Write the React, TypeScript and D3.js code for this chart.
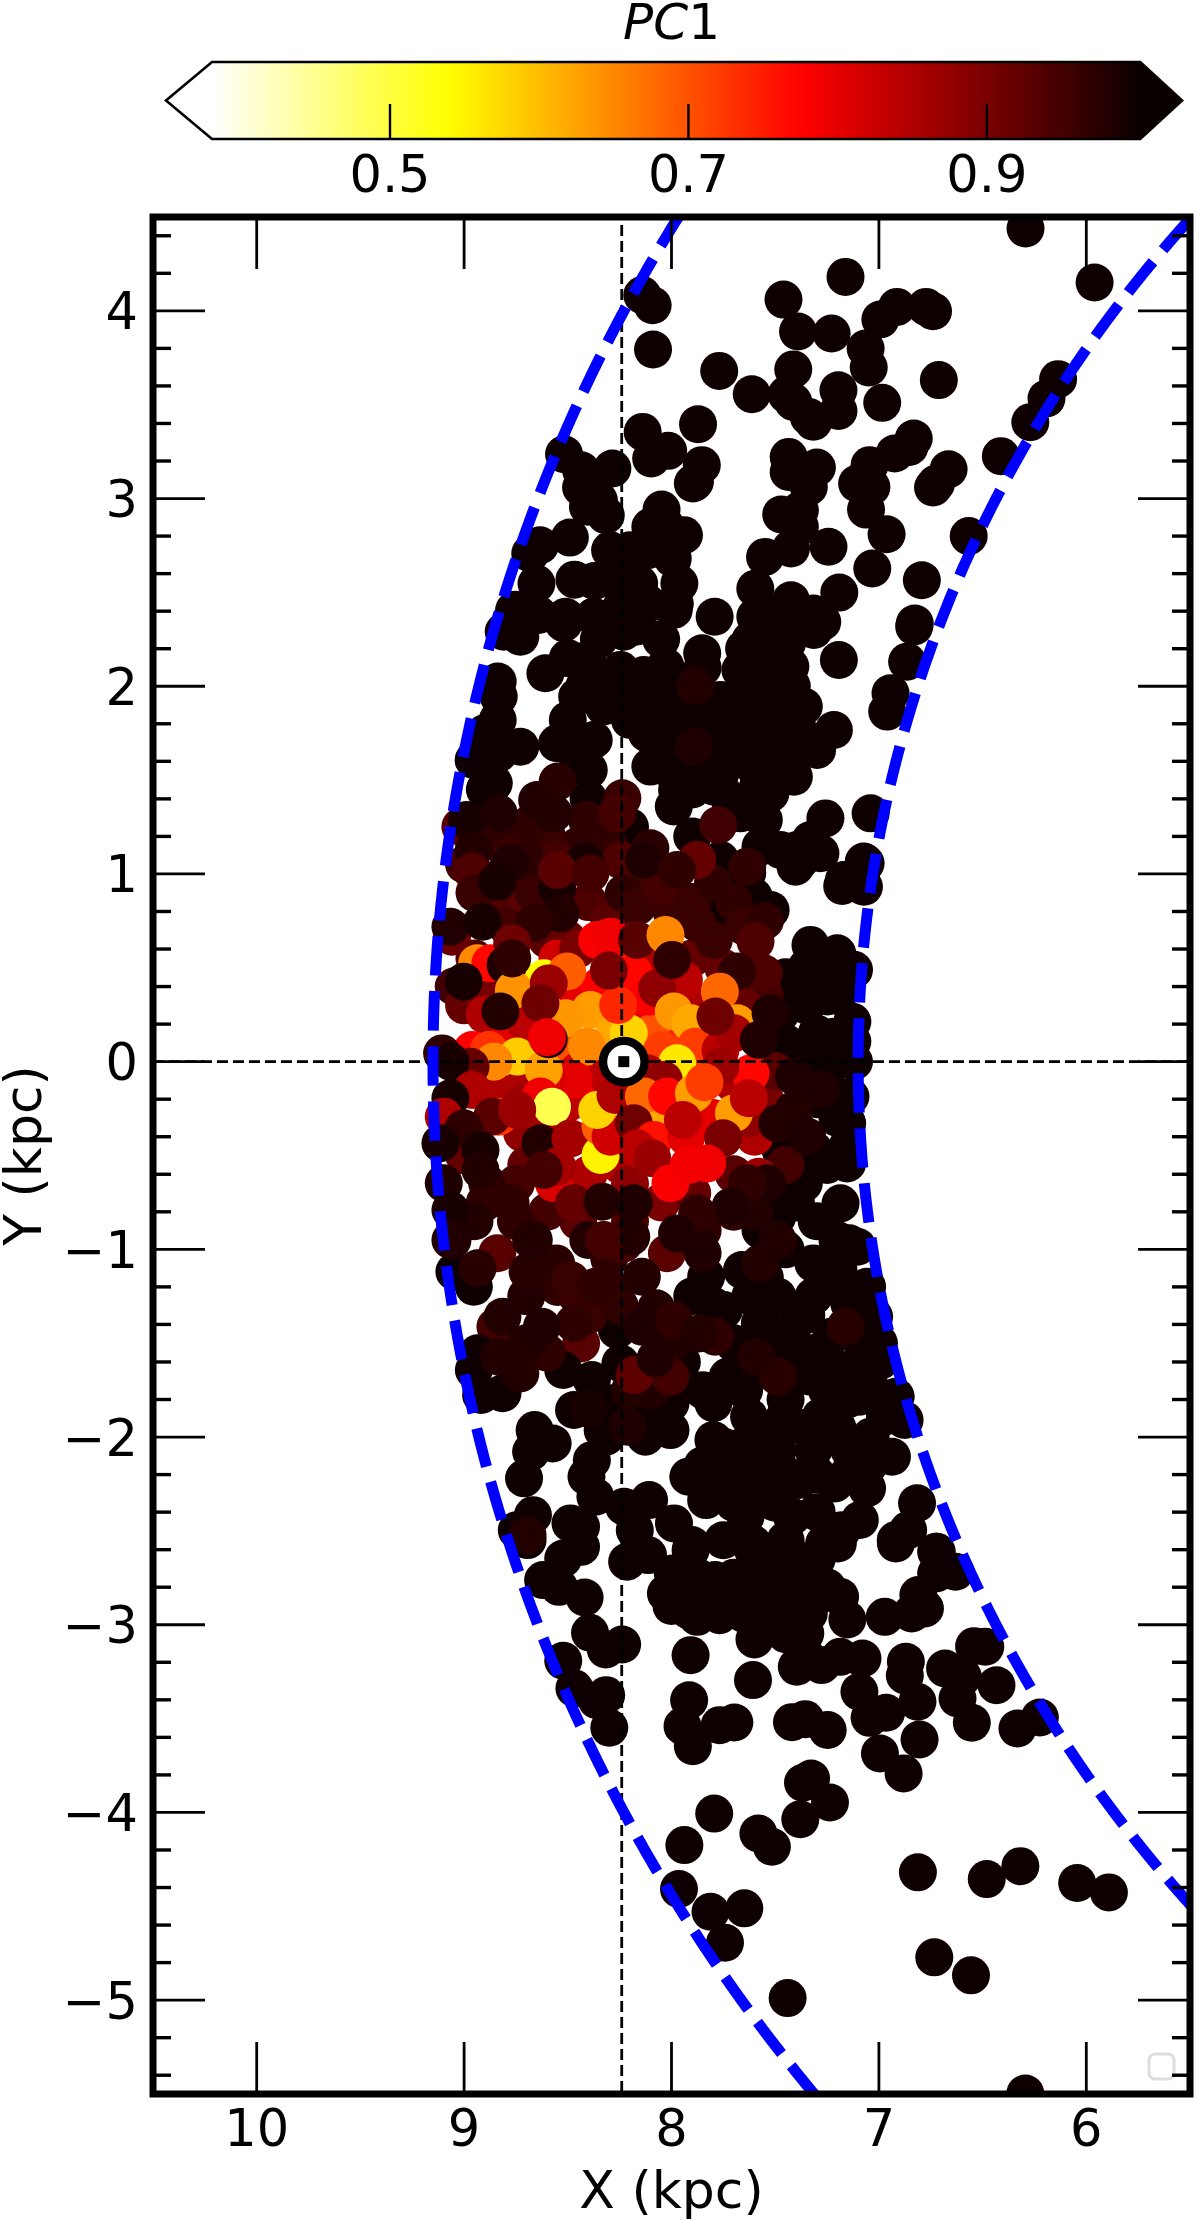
import React from 'react';
import * as d3 from 'd3';

// ---- axis ticks
const xMajorTicks = [10, 9, 8, 7, 6];
const yMajorTicks = [-5, -4, -3, -2, -1, 0, 1, 2, 3, 4];
const yMinorTicks = d3.range(-27, 23).map((d) => d / 5).filter((d) => Math.abs(d - Math.round(d)) > 1e-6);
const colorbarTicks = [0.5, 0.7, 0.9];

// ---- ring radii (kpc) and reference lines
const ringRadii = [9.15, 7.1];
const sunX = 8.23;
const refX = 8.24;
const refY = 0;

// ---- hot_r colormap knots
const colorKnots = [0, 0.254, 0.635, 1];
const colorKnotValues = ['#ffffff', '#ffff00', '#ff0000', '#0a0000'];
const pc1Min = 0.3807;
const pc1Max = 1.0033;

// ---- stars largely hidden behind the others: x, y, pc1
const starsBehind: number[][] = [
[9.018,1.252,0.93],[8.825,1.27,0.92],[8.84,-1.021,0.93],[8.849,-1.412,0.95],[8.436,-1.501,0.93],
];

// ---- saturated stars, PC1 ~ 1
const darkPC1 = 1.0;
const starsNorth: number[][] = [
[6.293,4.439],[5.96,4.151],[7.161,4.181],[7.46,4.06],[7.39,3.89],[7.228,3.879],[6.993,3.954],[6.913,4.021],[6.773,4.021],[6.739,3.998],
[7.064,3.799],[7.049,3.698],[6.711,3.631],[6.984,3.51],[7.413,3.688],[7.195,3.577],[7.195,3.467],[7.445,3.554],[7.413,3.515],[7.316,3.409],
[7.338,3.435],[7.613,3.556],[7.77,3.68],[8.141,4.084],[8.091,4.03],[8.089,3.794],[7.872,3.396],[8.139,3.355],[8.016,3.254],[8.098,3.213],
[7.854,3.178],[7.887,3.089],[7.897,3.08],[8.518,3.236],[8.436,3.151],[8.285,3.16],[8.436,3.059],[8.35,2.99],[8.403,2.956],[8.317,2.911],
[8.048,2.941],[8.102,2.849],[8.031,2.858],[7.94,2.805],[8.296,2.725],[8.199,2.725],[8.113,2.725],[7.994,2.68],[8.49,2.792],[8.634,2.751],
[8.681,2.707],[8.651,2.547],[8.468,2.568],[8.371,2.561],[8.263,2.556],[8.156,2.547],[7.962,2.547],[7.984,2.44],[8.759,2.405],[8.511,2.37],
[8.35,2.36],[8.242,2.423],[8.113,2.44],[8.64,2.38],[7.792,2.37],[7.596,2.52],[7.424,2.458],[7.549,2.689],[7.424,2.734],[7.243,2.743],
[7.435,3.222],[7.299,3.165],[7.435,3.142],[7.338,3.062],[7.381,2.938],[7.471,2.915],[7.381,2.849],[7.045,3.178],[6.924,3.24],[6.832,3.32],
[6.853,3.275],[6.664,3.156],[6.739,3.059],[6.724,3.08],[7.105,3.08],[7.036,3.062],[7.062,2.941],[6.963,2.81],[7.032,2.627],[6.793,2.565],
[7.191,2.499],[6.827,2.334],[6.412,3.226],[6.567,2.8],[6.136,3.636],[6.192,3.533],[6.27,3.407],[7.51,2.387],[7.316,2.387],[7.273,2.343],[7.596,2.37],
];
const starsUpper: number[][] = [
[7.314,2.3],[7.193,2.14],[7.217,1.767],[6.944,1.963],[6.96,1.865],[6.83,2.318],[6.864,2.131],[7.04,1.323],[7.258,1.296],[7.282,1.11],
[7.33,1.181],[7.394,1.128],[7.073,1.066],[7.169,0.968],[7.298,1.661],[7.41,1.518],[7.362,1.892],[7.394,1.785],[7.443,2.229],[7.539,2.264],
[7.443,2.407],[7.539,2.353],[7.427,2.105],[7.619,2.247],[7.852,2.176],[8.029,2.105],[8.134,2.06],[7.989,2.407],[8.166,2.318],[8.23,2.291],
[8.375,2.371],[8.52,2.336],[8.713,2.336],[8.729,2.264],[8.809,2.291],[8.753,2.407],[8.608,2.069],[8.455,1.945],[8.407,2.14],[8.246,2.087],
[8.343,2.051],[8.838,2.025],[8.833,1.945],[8.838,1.82],[8.729,1.678],[8.552,1.696],[8.375,1.714],[8.399,1.554],[8.954,1.607],[8.857,1.483],[8.833,1.643],
[8.086,1.963],[7.957,1.856],[8.118,1.749],[7.957,1.607],[8.102,1.572],[7.764,1.927],[7.668,2.087],[7.603,1.927],[7.523,2.051],[7.796,1.749],
[7.635,1.749],[7.507,1.82],[7.764,1.536],[7.603,1.572],[7.491,1.678],[7.973,1.447],[7.796,1.465],[7.603,1.394],[7.523,1.43],[8.214,1.927],
[8.327,1.892],[7.989,1.359],[7.555,1.288],[7.668,1.323],[7.571,1.145],[7.475,1.128],[7.378,1.074],
[8.5,1.82],[8.42,2.0],[8.05,2.0],[8.0,1.72],[7.9,1.95],[7.9,1.45],[7.85,2.1],[7.83,1.62],[7.75,1.78],[7.72,1.4],[7.72,1.9],[7.68,1.62],[7.65,2.2],
[7.6,1.85],[7.58,1.48],[7.55,2.1],[7.5,1.58],[7.47,1.95],[7.42,2.0],[7.4,1.65],[7.9,1.2],[8.0,1.55],[8.1,1.85],[8.2,1.25],[8.3,1.3],[8.45,1.6],[8.4,1.4],
[8.5,2.15],[8.35,2.25],[8.9,1.75],[8.9,1.45],[8.05,2.25],[8.2,1.82],[7.97,2.02],[7.88,1.8],
];
const starsEast: number[][] = [
[7.402,1.039],[7.177,0.936],[7.072,0.932],[7.064,1.057],[7.33,0.622],[7.201,0.577],[7.12,0.489],[7.386,0.426],[7.249,0.347],[7.474,0.258],
[7.128,0.213],[7.217,0.133],[7.128,0.107],[7.12,0.0],[7.313,-0.009],[7.137,-0.186],[7.153,-0.328],[7.153,-0.453],[7.153,-0.542],[7.474,-0.471],
[7.313,-0.471],[7.362,-0.648],[7.185,-0.755],[7.104,-0.986],[7.49,-0.826],[7.571,-0.897],[7.764,1.075],[7.635,1.004],[7.522,0.808],[7.603,0.879],[7.748,0.826],
[7.35,0.3],[7.45,0.1],[7.3,0.15],[7.2,0.35],[7.25,-0.05],[7.2,-0.3],[7.3,-0.2],[7.4,-0.35],[7.25,-0.55],[7.4,-0.75],[7.3,-0.85],[7.2,-0.95],[7.45,-1.0],
[7.55,-1.15],[7.25,-1.2],[7.35,0.5],[7.25,0.5],[7.45,0.45],
];
const starsSouth: number[][] = [
[9.047,-1.119],[8.953,-1.199],[7.833,-1.146],[7.143,-0.968],[7.057,-1.199],[7.023,-1.359],[6.988,-1.59],[6.919,-1.785],[6.876,-1.909],[6.937,-2.105],
[6.816,-2.353],[6.859,-2.496],[6.919,-2.549],[6.721,-2.611],[8.935,-1.554],[8.953,-1.643],[8.918,-1.776],[8.815,-1.767],[8.522,-1.643],[8.66,-1.963],
[8.677,-2.078],[8.711,-2.22],[8.573,-2.034],[8.668,-2.416],[8.746,-2.496],[8.436,-2.478],[8.487,-2.46],[8.41,-2.211],[8.367,-2.318],[8.384,-2.123],
[8.332,-1.963],[8.47,-1.856],[8.005,-1.82],[8.126,-1.998],[8.005,-1.963],[8.108,-1.82],[8.298,-1.82],[8.315,-1.998],[7.798,-2.016],[7.919,-2.211],
[7.833,-2.336],[8.108,-2.336],[8.229,-2.371],[7.988,-2.46],[8.177,-2.496],[7.902,-2.575],[7.609,-2.567],[7.419,-2.424],[7.643,-2.424],[7.264,-2.567],
[7.178,-2.496],[7.092,-2.442],[7.057,-2.273],[7.212,-2.247],[7.385,-2.229],[7.574,-2.247],[7.729,-2.211],[7.66,-2.052],[7.488,-2.069],[7.316,-2.069],
[7.143,-2.069],[7.04,-1.998],[6.971,-1.892],[7.092,-1.785],[7.281,-1.892],[7.454,-1.892],[7.626,-1.892],[7.798,-1.82],[7.729,-1.678],[7.333,-1.678],
[7.178,-1.643],[7.075,-1.554],[7.23,-1.465],[7.419,-1.43],[7.574,-1.394],[7.488,-1.252],[7.316,-1.252],[7.143,-1.288],[7.66,-1.11],[7.316,-1.075],
[7.195,-1.11],[7.747,-1.323],[8.263,-1.43],[8.246,-1.607],[8.384,-1.696],
[8.694,-2.549],[8.436,-2.585],[8.522,-2.647],[8.619,-2.762],[8.543,-2.798],[8.419,-2.855],[8.393,-3.043],[8.317,-3.132],[8.238,-3.105],[8.522,-3.192],
[8.468,-3.339],[8.315,-3.375],[8.36,-3.402],[8.3,-3.549],[8.214,-2.664],[8.113,-2.629],[7.908,-2.602],[7.607,-2.602],[7.381,-2.656],[7.198,-2.567],
[6.918,-2.567],[6.724,-2.611],[6.724,-2.727],[6.631,-2.718],[6.81,-2.842],[6.778,-2.913],[6.842,-2.94],[6.972,-2.958],[7.187,-2.851],[7.152,-2.972],
[8.027,-2.833],[7.994,-2.727],[7.876,-2.744],[7.79,-2.762],[7.919,-2.922],[7.876,-2.958],[7.768,-2.949],[7.65,-2.943],[7.574,-2.744],[7.456,-2.913],
[7.359,-2.78],[7.338,-2.94],[7.355,-3.046],[7.6,-3.078],[7.908,-3.162],[7.396,-3.224],[7.359,-3.153],[7.277,-3.215],[7.187,-3.171],[7.079,-3.18],
[7.607,-3.295],[6.87,-3.197],[6.875,-3.27],[6.681,-3.233],[6.541,-3.114],[6.487,-3.117],[6.595,-3.277],[6.433,-3.322],[6.621,-3.393],[7.094,-3.357],
[6.965,-3.469],[7.045,-3.496],[6.814,-3.41],[6.804,-3.611],[6.552,-3.522],[6.332,-3.553],[6.224,-3.494],[7.915,-3.402],[7.947,-3.54],[7.897,-3.647],
[7.768,-3.535],[7.697,-3.521],[7.419,-3.519],[7.355,-3.503],[7.247,-3.561],[6.995,-3.686],[6.881,-3.792],[7.366,-3.842],[7.327,-3.819],[7.236,-3.947],
[7.379,-4.036],[7.794,-4.006],[7.581,-4.112],[7.516,-4.183],[7.938,-4.174],
[7.964,-4.408],[7.812,-4.529],[7.649,-4.511],[7.742,-4.694],[7.44,-4.989],[6.812,-4.319],[6.48,-4.355],[6.318,-4.286],[6.044,-4.376],[5.891,-4.426],
[6.733,-4.772],[6.556,-4.868],[6.294,-5.497],
[7.9,-1.25],[7.95,-1.6],[7.85,-1.75],[7.8,-1.3],[7.7,-1.5],[7.65,-1.75],[7.62,-1.25],[7.55,-1.6],[7.5,-1.45],[7.45,-1.8],[7.4,-1.55],[7.35,-1.35],
[7.3,-1.55],[7.25,-1.75],[7.2,-1.95],[7.15,-1.8],[7.1,-1.4],[7.05,-1.7],[7.0,-1.5],[7.35,-1.95],[7.55,-2.0],[7.75,-2.05],[7.85,-2.15],[7.6,-2.15],
[7.45,-2.2],[7.3,-2.2],[7.15,-2.2],[7.05,-2.15],[7.7,-2.35],[7.5,-2.35],[7.3,-2.4],[7.75,-2.55],[7.45,-2.55],[7.6,-2.75],[7.5,-2.8],[7.45,-2.65],
[7.3,-2.65],[7.25,-2.8],[7.7,-2.75],[7.55,-2.95],[7.45,-3.05],[7.4,-2.85],[8.0,-2.9],[7.85,-2.85],[7.7,-2.85],[7.6,-2.85],[7.45,-2.75],[7.3,-2.85],
];

// ---- stars with a readable PC1: x, y, pc1, in paint order
const starsFill: number[][] = [
[8.95,0.9,0.95],[8.85,0.85,0.94],[8.75,0.95,0.95],[8.7,0.82,0.93],[8.6,0.65,0.93],[8.5,0.65,0.92],[8.4,0.85,0.94],[8.3,0.75,0.93],[8.45,1.15,0.97],[8.3,1.15,0.97],
[8.15,1.0,0.96],[8.0,0.8,0.96],[7.9,0.85,0.96],[7.8,0.95,0.97],[7.7,0.85,0.97],[7.65,0.72,0.96],[7.55,0.75,0.97],[8.6,1.2,0.96],[8.75,1.15,0.97],[8.9,1.2,0.97],
[9.0,1.05,0.95],[8.95,0.55,0.94],[9.05,0.4,0.95],[9.0,0.3,0.92],[8.9,0.35,0.9],[8.75,0.45,0.88],
[8.9,0.25,0.85],[8.8,0.1,0.8],[8.7,0.2,0.84],[8.55,0.55,0.82],[8.45,0.6,0.9],[8.45,0.35,0.8],[8.35,0.4,0.78],[8.25,0.55,0.75],[8.15,0.3,0.8],[8.05,0.55,0.85],
[7.9,0.55,0.92],[7.85,0.3,0.85],[7.75,0.5,0.92],[7.65,0.45,0.93],[7.55,0.35,0.95],[7.6,0.2,0.9],[7.95,0.1,0.75],[8.1,0.15,0.7],[8.3,0.0,0.72],[8.5,0.05,0.7],
[8.7,-0.1,0.85],[8.85,-0.15,0.85],[8.72,-0.38,0.88],[8.7,-0.55,0.92],[8.55,-0.4,0.85],[8.4,-0.15,0.78],[8.4,-0.6,0.85],[8.25,-0.55,0.85],[8.15,-0.1,0.8],[8.2,-0.65,0.88],
[8.05,-0.75,0.9],[7.9,-0.7,0.92],[7.8,-0.3,0.8],[7.6,-0.4,0.85],[7.55,-0.2,0.9],[7.5,-0.05,0.93],[7.45,-0.55,0.95],[7.7,-0.6,0.93],[8.45,-0.85,0.93],[8.6,-0.8,0.95],
[8.2,-0.85,0.94],[8.75,-0.65,0.95],[9.0,-0.1,0.85],[9.0,-0.5,0.92],[8.9,-0.75,0.97],[8.75,-0.85,0.97],[8.95,-0.85,0.98],[7.7,-0.8,0.97],[7.85,-0.9,0.97],[7.6,-0.8,0.98],
[7.85,-1.02,0.98],[8.3,-1.05,0.97],[8.55,-1.2,0.97],[8.7,-1.25,0.98],[8.4,-1.35,0.96],[8.3,-1.2,0.97],[8.6,-1.55,0.97],[8.7,-1.5,0.98],[8.4,-1.85,0.99],[8.2,-1.75,0.98],
[8.0,-1.5,0.98],[8.1,-1.75,0.98],[8.25,-1.3,0.97],[7.7,-0.12,0.85],[8.62,-0.3,0.86],[8.5,-0.22,0.84],[8.72,-0.22,0.87],[7.62,-0.3,0.88],[8.45,-0.05,0.82],[7.8,-0.05,0.82],
];
const starsHalo: number[][] = [
[8.549,1.492,0.975],[8.237,1.403,0.96],[7.885,2.002,0.98],[7.893,1.678,0.985],[7.775,1.261,0.955],[7.877,1.074,0.92],[8.102,1.137,0.975],
[8.407,1.288,0.97],[8.68,1.27,0.97],[8.785,1.092,0.96],[8.962,1.021,0.94],[8.552,1.074,0.95],[8.423,1.057,0.99],[8.857,0.968,0.99],
[8.986,1.288,0.99],[8.833,1.323,0.985],[8.262,1.323,0.95],[8.568,1.323,0.98],[8.648,1.394,0.98],[8.954,1.128,0.98],[8.246,1.074,0.94],
[8.07,0.986,0.95],[7.635,1.039,0.97],
[9.056,-0.95,0.985],[8.935,-1.101,0.975],[8.677,-0.95,0.98],[8.694,-1.119,0.975],[8.556,-1.075,0.975],[8.487,-1.163,0.96],
[8.401,-0.95,0.98],[8.229,-0.968,0.95],[8.194,-0.933,0.98],[8.022,-1.021,0.93],[8.143,-1.146,0.98],[7.867,-0.968,0.985],[7.574,-1.075,0.98],[7.488,-0.95,0.98],
[8.815,-1.359,0.98],[8.729,-1.661,0.98],[8.832,-1.572,0.98],[8.453,-1.252,0.96],[8.367,-1.199,0.97],[8.47,-1.394,0.97],
[8.625,-1.412,0.985],[8.177,-1.669,0.925],[8.005,-1.678,0.95],[8.077,-1.581,0.985],[8.074,-1.314,0.98],[8.143,-1.412,0.985],[7.988,-1.376,0.97],[7.79,-1.465,0.97],
[7.867,-1.448,0.98],[7.488,-1.678,0.975],[7.591,-1.572,0.98],[8.212,-1.945,0.985],[7.161,-1.412,0.975],[8.694,-2.522,0.98],
];
const starsCore: number[][] = [
[8.961,1.013,0.94],[9.058,0.666,0.915],[9.066,0.719,0.98],[8.945,0.897,0.96],[8.793,0.719,0.95],[8.664,0.897,0.96],[8.551,0.924,0.99],[8.415,1.066,0.99],
[8.696,1.075,0.97],[8.551,1.021,0.93],[8.776,1.057,0.985],[8.535,0.79,0.98],[8.664,0.737,0.97],[8.391,1.004,0.95],[8.23,0.897,0.97],[8.165,0.826,0.96],
[8.053,0.933,0.95],[7.876,1.075,0.92],[8.133,1.075,0.985],[7.973,1.021,0.97],[7.876,0.737,0.96],[7.796,0.648,0.96],[7.595,0.64,0.94],[7.555,0.471,0.94],
[7.651,0.293,0.92],[7.683,0.48,0.97],
[7.41,-0.08,0.985],[7.281,-0.151,0.985],[7.41,-0.257,0.98],[7.49,-0.328,0.98],[7.346,-0.399,0.985],[7.579,-0.613,0.87],[7.538,-0.648,0.985],[7.635,-0.648,0.97],
[7.715,-0.772,0.985],[7.876,-0.808,0.97],[7.973,-0.915,0.985],
[8.358,0.648,0.78],[8.294,0.666,0.79],[8.937,0.524,0.65],[8.873,0.524,0.77],[8.80,0.515,0.985],[8.961,0.062,0.78],[8.881,0.062,0.73],[8.616,0.444,0.54],
[8.76,0.382,0.64],[8.744,0.027,0.585],[8.391,0.275,0.63],[8.511,0.231,0.635],[8.503,0.48,0.69],[8.592,0.417,0.87],[8.632,0.311,0.91],[8.278,0.142,0.62],
[8.206,0.151,0.58],[8.407,0.08,0.65],[8.182,0.471,0.77],[8.109,0.346,0.78],[8.257,0.302,0.74],[8.302,0.485,0.90],[8.166,0.648,0.93],[8.029,0.675,0.65],
[7.94,0.435,0.84],[8.069,0.391,0.88],[7.989,0.267,0.635],[7.767,0.373,0.68],[7.683,0.204,0.63],[7.908,0.204,0.62],[8.045,0.062,0.72],[7.884,0.08,0.72],
[7.973,-0.009,0.56],[7.764,0.062,0.84],[7.699,0.151,0.86],[7.619,-0.062,0.77],[7.764,-0.027,0.87],[8.117,-0.062,0.85],[8.037,-0.098,0.88],[8.31,-0.08,0.84],
[8.471,-0.098,0.80],[8.6,-0.08,0.81],[8.616,-0.044,0.625],[8.857,0.0,0.65],[8.969,-0.027,0.92],[8.592,0.119,0.99],[8.6,0.13,0.79],[9.106,0.044,0.97],[9.066,0.0,0.99],
[8.961,-0.151,0.85],[9.066,-0.195,0.99],[8.833,-0.293,0.73],[8.865,-0.293,0.93],[9.098,-0.293,0.85],[9.002,-0.355,0.97],[9.114,-0.435,0.99],[8.921,-0.471,0.99],
[8.632,-0.186,0.79],[8.576,-0.24,0.49],[8.744,-0.257,0.87],[8.632,-0.435,0.98],[8.487,-0.409,0.86],[8.342,-0.497,0.55],[8.342,-0.346,0.69],[8.294,-0.4,0.82],
[8.358,-0.257,0.58],[8.27,-0.178,0.85],[8.117,-0.257,0.58],[8.133,-0.186,0.68],[8.069,-0.364,0.62],[8.182,-0.328,0.91],[8.085,-0.417,0.76],[8.166,-0.462,0.84],
[8.093,-0.515,0.87],[8.021,-0.186,0.77],[7.892,-0.169,0.63],[7.841,-0.11,0.72],[7.699,-0.275,0.63],[7.929,-0.4,0.80],[7.945,-0.311,0.84],[7.627,-0.195,0.84],
[7.751,-0.408,0.90],[7.828,-0.542,0.79],[8.005,-0.648,0.78],[7.916,-0.55,0.785],[8.567,-0.648,0.81],[8.551,-0.559,0.86],[8.616,-0.577,0.95],[8.776,-0.755,0.97],
[8.471,-0.755,0.92],[8.334,-0.746,0.98],[8.182,-0.755,0.985],[8.326,-0.95,0.95],[8.664,-0.95,0.98],[9.098,-0.648,0.985],[9.066,-0.79,0.99],[9.066,-0.95,0.98],
[8.889,-0.648,0.97],[8.921,-0.577,0.98],
[8.841,0.959,0.99],[8.911,0.746,0.99],[8.768,0.631,0.91],[9.002,0.426,0.99],[8.825,0.267,0.98],[8.768,0.55,0.97],[7.997,0.542,0.97],[7.788,0.24,0.91],[7.579,0.116,0.985],[7.522,0.258,0.985],
];

const WIDTH = 1200;
const HEIGHT = 2221;
const FONT = '"DejaVu Sans", sans-serif';
const frame = { left: 153, right: 1190, top: 217, bottom: 2094 };

const x = d3.scaleLinear().domain([10.5, 5.5]).range([frame.left, frame.right]);
const y = d3.scaleLinear().domain([-5.5, 4.5]).range([frame.bottom, frame.top]);
const colorT = d3.scaleLinear().domain([pc1Min, pc1Max]).range([0, 1]);
const colorMap = d3.scaleLinear<string>().domain(colorKnots).range(colorKnotValues).interpolate(d3.interpolateRgb).clamp(true);
const pc1Color = (v: number) => colorMap(colorT(v));
const cb = d3.scaleLinear().domain([pc1Min, pc1Max]).range([212, 1141]);
const cbTop = 62;
const cbBottom = 139;

// dashed ring: a circle in data space, dash phase anchored to a pixel height
const DASH = 39.5;
const GAP = 15.6;
function ring(r: number, anchorPx: number) {
  const maxA = Math.PI / 2.4;
  const thetas = d3.range(-maxA, maxA, 0.001);
  const pts: [number, number][] = thetas.map((t) => [x(r * Math.cos(t)), y(r * Math.sin(t))]);
  let len = 0;
  let anchor = 0;
  for (let i = 1; i < pts.length; i++) {
    const prevY = pts[i - 1][1];
    len += Math.hypot(pts[i][0] - pts[i - 1][0], pts[i][1] - pts[i - 1][1]);
    if (prevY > anchorPx && pts[i][1] <= anchorPx) anchor = len;
  }
  const d = d3.line()(pts) as string;
  return { d, offset: -anchor };
}
const rings = [ring(ringRadii[0], 1087), ring(ringRadii[1], 1058)];

const allStars: number[][] = [
  ...starsBehind,
  ...starsNorth.map((p) => [p[0], p[1], darkPC1]),
  ...starsUpper.map((p) => [p[0], p[1], darkPC1]),
  ...starsEast.map((p) => [p[0], p[1], darkPC1]),
  ...starsSouth.map((p) => [p[0], p[1], darkPC1]),
  ...starsFill,
  ...starsHalo,
  ...starsCore,
];

const labelStyle = { fontFamily: FONT, fill: '#000' } as const;

export default function App() {
  const gradientStops = d3.range(0, 1.0001, 0.02);
  return (
    <svg width={WIDTH} height={HEIGHT} viewBox={`0 0 ${WIDTH} ${HEIGHT}`} style={{ position: 'absolute', left: 0, top: 0, display: 'block', background: '#fff' }}>
      <defs>
        <clipPath id="plot"><rect x={frame.left} y={frame.top} width={frame.right - frame.left} height={frame.bottom - frame.top} /></clipPath>
        <linearGradient id="cbgrad" x1="0" x2="1" y1="0" y2="0">
          {gradientStops.map((t) => <stop key={t} offset={t} stopColor={colorMap(t)} />)}
        </linearGradient>
      </defs>

      {/* colorbar */}
      <text x={671.5} y={39} textAnchor="middle" fontSize={50} {...labelStyle}>
        <tspan fontStyle="italic">PC</tspan>1
      </text>
      <rect x={cb(pc1Min)} y={cbTop} width={cb(pc1Max) - cb(pc1Min)} height={cbBottom - cbTop} fill="url(#cbgrad)" />
      <polygon points={`${cb(pc1Max)},${cbTop - 1} 1184,${(cbTop + cbBottom) / 2} ${cb(pc1Max)},${cbBottom + 1}`} fill="#0a0000" />
      <path d={`M${cb(pc1Max)},${cbTop} H${cb(pc1Min)} L166,${(cbTop + cbBottom) / 2} L${cb(pc1Min)},${cbBottom} H${cb(pc1Max)}`} fill="none" stroke="#000" strokeWidth={2.6} />
      {colorbarTicks.map((t) => (
        <g key={t}>
          <line x1={cb(t)} x2={cb(t)} y1={104} y2={cbBottom} stroke="#000" strokeWidth={2.4} />
          <text x={cb(t)} y={191.5} textAnchor="middle" fontSize={51} {...labelStyle}>{t.toFixed(1)}</text>
        </g>
      ))}

      {/* stars */}
      <g clipPath="url(#plot)">
        {allStars.map((s, i) => (
          <circle key={i} cx={x(s[0])} cy={y(s[1])} r={19} fill={pc1Color(s[2])} />
        ))}
        <line x1={x(refX)} x2={x(refX)} y1={frame.top + 8} y2={frame.bottom} stroke="#000" strokeWidth={2.8} strokeDasharray="11 5" />
        <line x1={frame.left} x2={frame.right} y1={y(refY)} y2={y(refY)} stroke="#000" strokeWidth={2.8} strokeDasharray="11 5" />
        {rings.map((r, i) => (
          <path key={i} d={r.d} fill="none" stroke="#0000ff" strokeWidth={11} strokeDasharray={`${DASH} ${GAP}`} strokeDashoffset={r.offset} />
        ))}
        <circle cx={x(sunX)} cy={y(0)} r={20.8} fill="#fff" stroke="#000" strokeWidth={8.4} />
        <rect x={x(sunX) - 5.5} y={y(0) - 5.5} width={11} height={11} fill="#000" />
        <rect x={1149} y={2054} width={25} height={25} rx={6} fill="none" stroke="#dddddd" strokeWidth={3} />
      </g>

      {/* ticks */}
      {xMajorTicks.map((t) => (
        <g key={t}>
          <line x1={x(t)} x2={x(t)} y1={frame.top} y2={frame.top + 52} stroke="#000" strokeWidth={2.8} />
          <line x1={x(t)} x2={x(t)} y1={frame.bottom} y2={frame.bottom - 52} stroke="#000" strokeWidth={2.8} />
          <text x={x(t)} y={2146} textAnchor="middle" fontSize={51} {...labelStyle}>{t}</text>
        </g>
      ))}
      {yMajorTicks.map((t) => (
        <g key={t}>
          <line x1={frame.left} x2={frame.left + 52} y1={y(t)} y2={y(t)} stroke="#000" strokeWidth={2.8} />
          <line x1={frame.right} x2={frame.right - 52} y1={y(t)} y2={y(t)} stroke="#000" strokeWidth={2.8} />
          <text x={138} y={y(t) + 18.5} textAnchor="end" fontSize={51} {...labelStyle}>{t < 0 ? `\u2212${-t}` : t}</text>
        </g>
      ))}
      {yMinorTicks.map((t) => (
        <g key={t}>
          <line x1={frame.left} x2={frame.left + 18} y1={y(t)} y2={y(t)} stroke="#000" strokeWidth={3.4} />
          <line x1={frame.right} x2={frame.right - 18} y1={y(t)} y2={y(t)} stroke="#000" strokeWidth={3.4} />
        </g>
      ))}
      <rect x={frame.left} y={frame.top} width={frame.right - frame.left} height={frame.bottom - frame.top} fill="none" stroke="#000" strokeWidth={7} />

      {/* axis labels */}
      <text x={671.5} y={2208} textAnchor="middle" fontSize={52} {...labelStyle}>X (kpc)</text>
      <text transform={`translate(41,${(frame.top + frame.bottom) / 2}) rotate(-90)`} textAnchor="middle" fontSize={52} {...labelStyle}>Y (kpc)</text>
    </svg>
  );
}
